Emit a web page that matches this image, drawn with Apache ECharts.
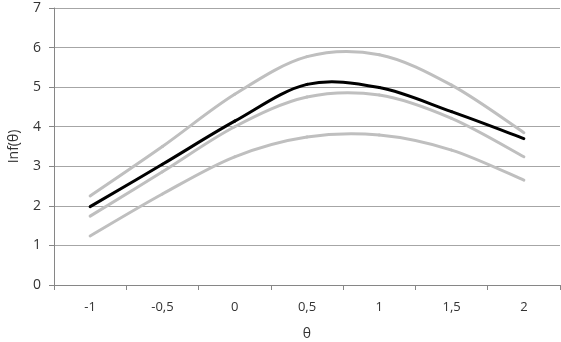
<!DOCTYPE html>
<html><head><meta charset="utf-8">
<script src="https://cdn.jsdelivr.net/npm/echarts@6/dist/echarts.min.js"></script>
<style>html,body{margin:0;padding:0;background:#fff}#c{width:561px;height:342px}</style>
</head><body><div id="c"></div>
<script>
const categories = ['-1', '-0,5', '0', '0,5', '1', '1,5', '2'];
const infMain  = [1.98, 3.05, 4.14, 5.07, 4.99, 4.38, 3.70];
const infUpper = [2.25, 3.50, 4.82, 5.77, 5.82, 5.05, 3.85];
const infMid   = [1.74, 2.86, 4.00, 4.75, 4.80, 4.21, 3.24];
const infLower = [1.24, 2.30, 3.24, 3.74, 3.79, 3.41, 2.65];
const yTicks = [0, 1, 2, 3, 4, 5, 6, 7];

const font = 'Open Sans';
const chart = echarts.init(document.getElementById('c'));

// Smooth (Catmull-Rom style) curve drawn segment by segment through the axis scales
function curveSeries(values, color, z) {
  const n = values.length;
  return {
    type: 'custom', z: z, silent: true,
    data: values.map((v, i) => [i, v]),
    encode: {x: 0, y: 1},
    renderItem: function (params, api) {
      const i = params.dataIndex;
      if (i >= n - 1) return null;
      const P = k => api.coord([Math.max(0, Math.min(n - 1, k)), values[Math.max(0, Math.min(n - 1, k))]]);
      const p0 = P(i - 1), p1 = P(i), p2 = P(i + 1), p3 = P(i + 2);
      const c1 = [p1[0] + (p2[0] - p0[0]) / 6, p1[1] + (p2[1] - p0[1]) / 6];
      const c2 = [p2[0] - (p3[0] - p1[0]) / 6, p2[1] - (p3[1] - p1[1]) / 6];
      return {
        type: 'bezierCurve',
        shape: {x1: p1[0], y1: p1[1], cpx1: c1[0], cpy1: c1[1], cpx2: c2[0], cpy2: c2[1], x2: p2[0], y2: p2[1]},
        style: {stroke: color, lineWidth: 3, fill: null, lineCap: 'round'}
      };
    }
  };
}

chart.setOption({
  animation:false,
  grid:{left:54, right:1, top:8, bottom:57, containLabel:false, outerBoundsMode:'none'},
  xAxis:{type:'category', data:categories, boundaryGap:true,
    name:'θ', nameLocation:'middle', nameGap:42,
    nameTextStyle:{fontFamily:font, fontSize:14, color:'#333'},
    axisLine:{lineStyle:{color:'#868686', width:1}},
    axisTick:{show:true, length:5, lineStyle:{color:'#868686'}},
    axisLabel:{fontFamily:font, fontSize:13, color:'#333', margin:16},
    splitLine:{show:false}},
  yAxis:{type:'value', min:yTicks[0], max:yTicks[yTicks.length-1], interval:1,
    name:'Inf(θ)', nameLocation:'middle', nameGap:33, nameRotate:90,
    nameTextStyle:{fontFamily:font, fontSize:14, color:'#333'},
    axisLine:{show:true, lineStyle:{color:'#868686', width:1}},
    axisTick:{show:true, length:5, lineStyle:{color:'#868686'}},
    axisLabel:{fontFamily:font, fontSize:14, color:'#333', margin:13},
    splitLine:{show:true, lineStyle:{color:'#a6a6a6', width:1}}},
  series:[
    curveSeries(infUpper, '#bfbfbf', 2),
    curveSeries(infMid, '#bfbfbf', 2),
    curveSeries(infLower, '#bfbfbf', 2),
    curveSeries(infMain, '#000000', 3)
  ]
});
</script></body></html>
